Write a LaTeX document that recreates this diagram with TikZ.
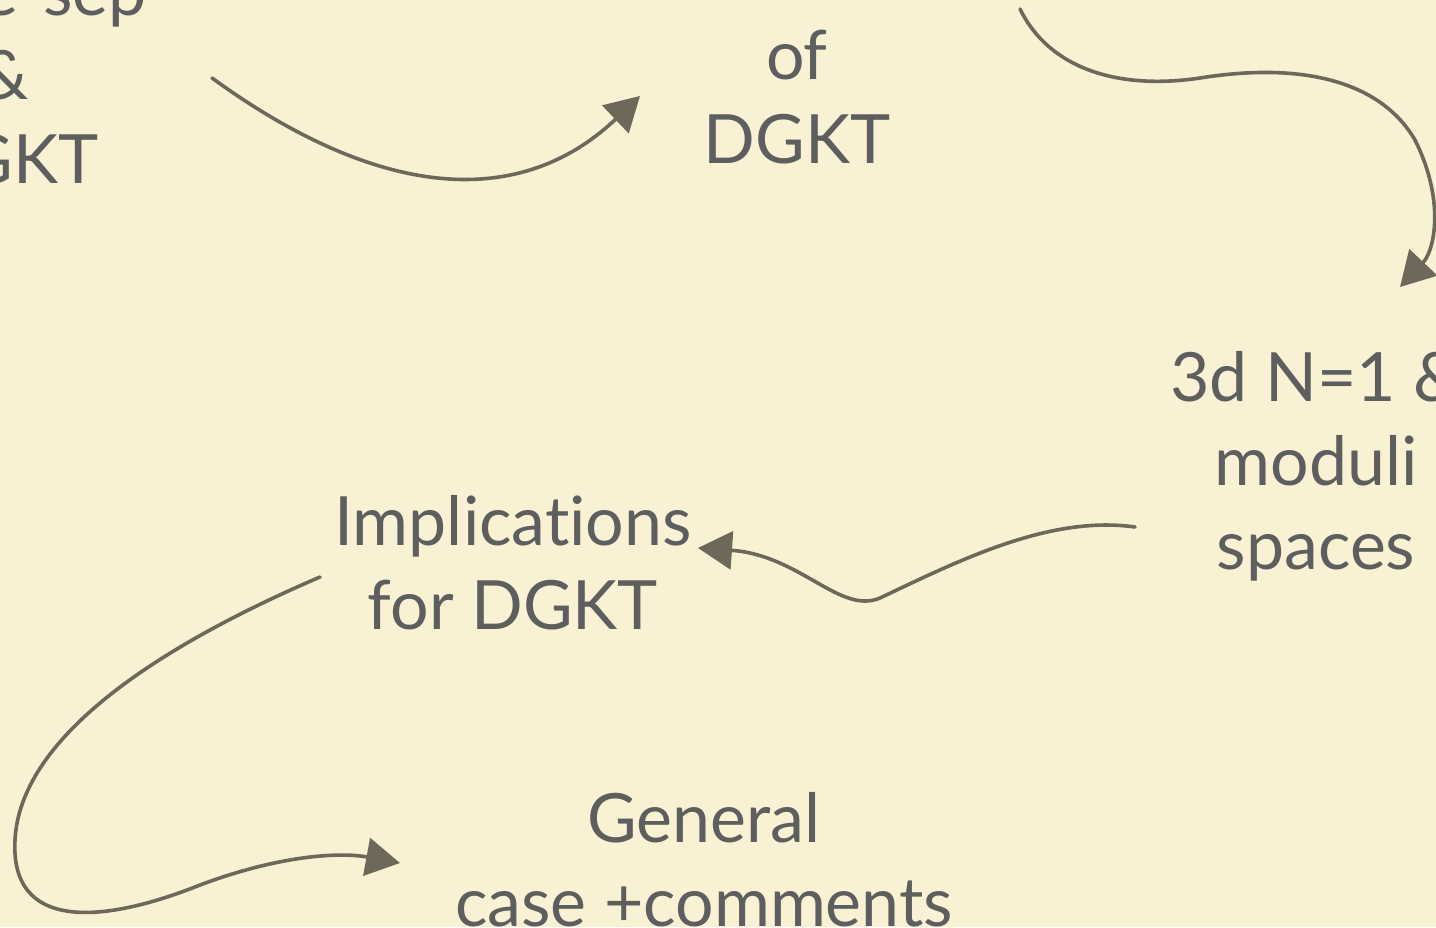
\documentclass[tikz,border=0pt]{standalone}
\usepackage{fontspec}
\setmainfont{Lato}[Ligatures=NoCommon]
\usetikzlibrary{arrows.meta}
\definecolor{paper}{RGB}{249,241,212}
\definecolor{ink}{RGB}{94,94,94}
\definecolor{pencil}{RGB}{110,104,90}

\begin{document}
\begin{tikzpicture}[
  x=0.5pt, y=-0.5pt,
  topic/.style={text=ink, align=center, inner sep=0pt, font=\fontsize{34}{42}\selectfont},
  arrow/.style={-{Triangle[length=17pt, width=19pt]}, line width=1.8pt, draw=pencil, line cap=round}
]
\fill[paper] (0,0) rectangle (1436,927);
\useasboundingbox (0,0) rectangle (1436,927);
\node[topic] (sep) at (5,75) {Scale-sep\\\&\\DGKT};
\node[topic] (dgkt) at (797,97) {of\\DGKT};
\node[topic] (moduli) at (1316,466) {3d N=1 \&\\moduli\\spaces};
\node[topic] (impl) at (513,563) {Implications\\for DGKT};
\node[topic] (general) at (704,860) {General\\case +comments};
\draw[arrow] ([shift={(207,3)}]sep.center) .. controls +(168,122) and +(-120,114) .. ([shift={(-157,-1)}]dgkt.center);
\draw[arrow] ([shift={(223,-88)}]dgkt.center)
  .. controls +(30,61) and +(-80,12) .. ++(180,69)
  .. controls +(100,-16) and +(-35,-60) .. ++(215,62)
  .. controls +(30,60) and +(35,-37) .. ([shift={(84,-179)}]moduli.center);
\draw[arrow] ([shift={(-181,61)}]moduli.center)
  .. controls +(-85,-12) and +(80,-38) .. ++(-255,71)
  .. controls +(-40,17) and +(102,7) .. ([shift={(185,-15)}]impl.center);
\draw[arrow] ([shift={(-193,14)}]impl.center)
  .. controls +(-170,73) and +(5,-100) .. ++(-305,263)
  .. controls +(-5,90) and +(-100,40) .. ++(185,45)
  .. controls +(80,-30) and +(-60,-11) .. ([shift={(-304,3)}]general.center);
\end{tikzpicture}
\end{document}
